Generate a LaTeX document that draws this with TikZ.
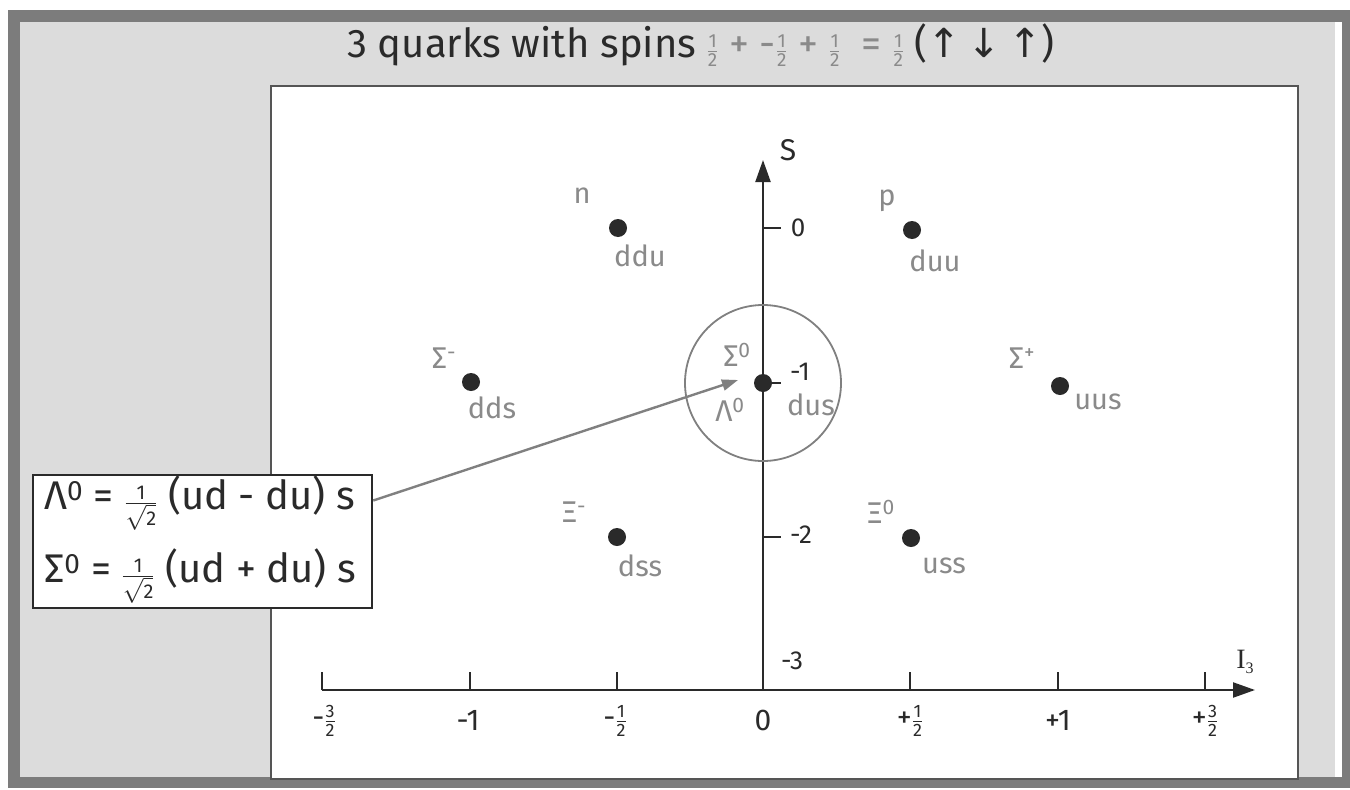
\documentclass[tikz,border=0pt]{standalone}
\usepackage{amsmath}
\usepackage{fontspec}
\setmainfont{Fira Sans}
\newfontfamily\dvfont{DejaVu Sans}
\newfontfamily\serfont{Liberation Serif}
\usetikzlibrary{arrows.meta}
\definecolor{frameGrey}{HTML}{7C7C7C}
\definecolor{bgGrey}{HTML}{DCDCDC}
\definecolor{labelGrey}{HTML}{8A8A8A}
\definecolor{ink}{HTML}{2A2A2A}
\definecolor{circGrey}{HTML}{808080}
\newcommand{\hf}[3]{\ensuremath{\genfrac{}{}{0.5pt}{}{\mbox{\fontsize{#1}{#1}\selectfont #2}}{\mbox{\fontsize{#1}{#1}\selectfont #3}}}}
\newcommand{\hfsq}[1]{\ensuremath{\genfrac{}{}{0.5pt}{}{\mbox{\fontsize{#1}{#1}\selectfont 1}}{\sqrt{\mbox{\fontsize{#1}{#1}\selectfont 2}}}}}
\begin{document}
\begin{tikzpicture}[x=1pt,y=-1pt,
  dot/.style={circle,fill=ink,inner sep=0pt,minimum size=18pt},
  lbl/.style={text=labelGrey,font=\fontsize{29}{30}\selectfont,inner sep=0pt},
  greek/.style={text=labelGrey,font=\fontsize{30}{32}\selectfont,inner sep=0pt},
  num/.style={text=ink,font=\fontsize{30}{32}\selectfont,inner sep=0pt},
  snum/.style={text=ink,font=\fontsize{26}{28}\selectfont,inner sep=0pt},
  axisline/.style={draw=ink,line width=2.2pt},
  tickline/.style={draw=ink,line width=1.6pt},
  bigtip/.style={-{Triangle[length=22pt,width=15pt]}},
  formula/.style={text=ink,font=\fontsize{40}{42}\selectfont,inner sep=0pt,anchor=west}
]
\useasboundingbox (0,0) rectangle (1350,790);
% frame
\fill[white] (0,0) rectangle (1350,790);
\fill[frameGrey] (8,10) rectangle (1350,788);
\fill[white] (1334,22) rectangle (1342,777);
\fill[bgGrey] (20,22) rectangle (1335,777);
\draw[draw=ink!80,line width=2pt,fill=white] (271,86) rectangle (1298,779);

% title
\node[text=ink,font=\fontsize{40}{42}\selectfont,inner sep=0pt] (title) at (701,45)
  {3 quarks with spins {\color{labelGrey}\hf{19}{1}{2} + -\hf{19}{1}{2} + \hf{19}{1}{2} \ = \hf{19}{1}{2}} ({\dvfont ↑\,↓\,↑})};

% axes
\coordinate (origin) at (763,690);
\coordinate (xstart) at (322,690);
\coordinate (xend) at (1255,690);
\coordinate (ytop) at (763,160);
\draw[axisline,bigtip] (xstart) -- (xend);
\draw[axisline,bigtip] (origin) -- (ytop);
\foreach \x in {322,470,617,910,1058,1205}
  \draw[tickline] (\x,690) -- (\x,672);
\foreach \y in {228,383,537}
  \draw[tickline] (763,\y) -- (781,\y);

\node[text=ink,font=\fontsize{30}{32}\selectfont,inner sep=0pt] (Slabel) at (788,150) {S};
\node[text=ink,font=\serfont\fontsize{28}{30}\selectfont,inner sep=0pt] (Ilabel) at (1245,662) {I\raisebox{-5pt}{\fontsize{16}{16}\selectfont 3}};

% vertical axis numbers
\node[snum] (s0) at (798,228) {0};
\node[snum] (s1) at (800,372) {-1};
\node[snum] (s2) at (801,535) {-2};
\node[snum] (s3) at (792,661) {-3};

% horizontal axis numbers
\node[num] (hm3) at (324,721) {-\hf{18}{3}{2}};
\node[num] (hm2) at (468,720) {-1};
\node[num] (hm1) at (615,721) {-\hf{18}{1}{2}};
\node[num] (h0) at (763,720) {0};
\node[num] (hp1) at (910,721) {+\hf{18}{1}{2}};
\node[num] (hp2) at (1058,720) {+1};
\node[num] (hp3) at (1205,721) {+\hf{18}{3}{2}};

% ring
\node[draw=circGrey,line width=1.8pt,circle,minimum size=156pt,inner sep=0pt] (ring) at (763,383) {};

% dots
\node[dot] (n) at (618,228) {};
\node[dot] (p) at (912,230) {};
\node[dot] (sm) at (471,382) {};
\node[dot] (s0dot) at (763,383) {};
\node[dot] (sp) at (1060,386) {};
\node[dot] (xm) at (617,537) {};
\node[dot] (x0) at (911,538) {};

% labels
\node[lbl] (nl) at (582,196) {n};
\node[lbl] (nq) at (640,256) {ddu};
\node[lbl] (pl) at (887,201) {p};
\node[lbl] (pq) at (935,261) {duu};
\node[greek] (sml) at (444,358) {Σ\textsuperscript{-}};
\node[lbl] (smq) at (492,408) {dds};
\node[greek] (spl) at (1022,358) {Σ\textsuperscript{+}};
\node[lbl] (spq) at (1098,402) {uus};
\node[greek] (s0l) at (737,355) {Σ\textsuperscript{0}};
\node[greek] (l0l) at (730,410) {Λ\textsuperscript{0}};
\node[lbl] (s0q) at (811,405) {dus};
\node[greek] (xml) at (574,512) {Ξ\textsuperscript{-}};
\node[lbl] (xmq) at (640,566) {dss};
\node[greek] (x0l) at (881,512) {Ξ\textsuperscript{0}};
\node[lbl] (x0q) at (944,566) {uss};

% formula box
\node[draw=ink,line width=2.5pt,fill=white,minimum width=339pt,minimum height=133pt,inner sep=0pt] (box) at (202.5,541.5) {};
\node[formula] (f1) at (44,503)
  {Λ\textsuperscript{0} = \hfsq{20} (ud - du) s};
\node[formula] (f2) at (44,576)
  {Σ\textsuperscript{0} = \hfsq{20} (ud + du) s};

% arrow
\coordinate (lamtip) at (738,380);
\draw[draw=circGrey,line width=2.4pt,-{Triangle[length=16pt,width=11pt]}] ([yshift=41pt]box.east) -- (lamtip);
\end{tikzpicture}
\end{document}
